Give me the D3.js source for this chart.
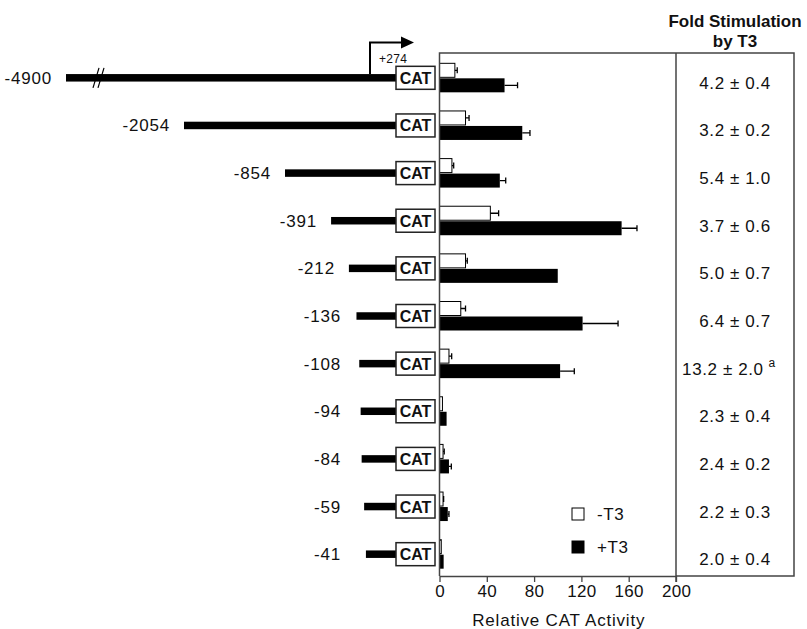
<!DOCTYPE html>
<html>
<head>
<meta charset="utf-8">
<script src="https://cdn.jsdelivr.net/npm/d3@7"></script>
<style>
  body { margin: 0; background: #fff; }
  svg text { font-family: "Liberation Sans", Arial, Helvetica, sans-serif; fill: #111; }
</style>
</head>
<body>
<div id="chart"></div>
<script>
"use strict";

// Promoter constructs, 5' end in bp relative to the CAT fusion
const constructs = ['-4900', '-2054', '-854', '-391', '-212', '-136', '-108', '-94', '-84', '-59', '-41'];
const promoterStart = [-4900, -2054, -854, -391, -212, -136, -108, -94, -84, -59, -41];

// Relative CAT activity
const minusT3 = [13, 22, 10.5, 43, 22, 18, 8, 2.5, 3, 3, 1.5];
const minusT3Err = [2, 3, 1.5, 7, 1.5, 4, 2.3, 0, 1, 0.5, 0];
const plusT3 = [55, 70, 51, 154, 100, 121, 102, 6, 8, 7, 3.5];
const plusT3Err = [11, 6.5, 5, 13, 0, 30, 12, 0, 2, 1, 0];

// Fold stimulation column
const foldText = ['4.2 \u00b1 0.4', '3.2 \u00b1 0.2', '5.4 \u00b1 1.0', '3.7 \u00b1 0.6', '5.0 \u00b1 0.7',
    '6.4 \u00b1 0.7', '13.2 \u00b1 2.0', '2.3 \u00b1 0.4', '2.4 \u00b1 0.2', '2.2 \u00b1 0.3', '2.0 \u00b1 0.4'];
const foldNote = ['', '', '', '', '', '', 'a', '', '', '', ''];

const xTicks = [0, 40, 80, 120, 160, 200];
const legendLabels = ['-T3', '+T3'];

const W = 807, H = 629;
const plot = {left: 439.5, right: 676, top: 53, bottom: 576};
const tableRight = 794;
const boxStroke = '#444';

let rows = constructs.map(function (c, i) {
    return {name: c, start: promoterStart[i],
            minus: minusT3[i], minusErr: minusT3Err[i],
            plus: plusT3[i], plusErr: plusT3Err[i],
            fold: foldText[i], note: foldNote[i]};
});

let svg = d3.select('#chart').append('svg')
    .attr('width', W)
    .attr('height', H);

let x = d3.scaleLinear()
    .domain([0, 200])
    .range([plot.left, plot.right]);
let y = d3.scaleBand()
    .domain(constructs)
    .range([plot.top + 1, plot.bottom + 2]);
function rowMid(d) { return y(d.name) + y.bandwidth() / 2; }

// Map promoter position to the left diagram (not to scale; -4900 is broken)
let bp = d3.scaleLinear()
    .domain([-4900, -2054, -854, 0])
    .range([66, 184, 285, 370]);
const catLeft = 396, catW = 39, catH = 23, lineH = 7.5;

// ---- promoter diagrams ----
let construct = svg.append('g').selectAll('g')
  .data(rows)
  .enter().append('g');

construct.append('rect')  // thick promoter line
    .attr('x', function (d) { return bp(d.start); })
    .attr('y', function (d) { return rowMid(d) - lineH / 2; })
    .attr('width', function (d) { return catLeft - bp(d.start); })
    .attr('height', lineH)
    .attr('fill', '#000');

construct.append('text')
    .attr('x', function (d) { return Math.min(bp(d.start) - 14, 341); })
    .attr('y', function (d) { return rowMid(d) + 6; })
    .style('text-anchor', 'end')
    .style('font-size', '17px')
    .style('letter-spacing', '0.8px')
    .text(function (d) { return d.name; });

construct.append('rect')  // CAT reporter box
    .attr('x', catLeft)
    .attr('y', function (d) { return rowMid(d) - catH / 2; })
    .attr('width', catW)
    .attr('height', catH)
    .attr('fill', '#fff')
    .attr('stroke', '#222')
    .attr('stroke-width', 1.5);

construct.append('text')
    .attr('x', catLeft + catW / 2)
    .attr('y', function (d) { return rowMid(d) + 6; })
    .style('text-anchor', 'middle')
    .style('font-size', '16px')
    .style('font-weight', 'bold')
    .text('CAT');

// Break marks on the long construct
let first = rows[0];
[93, 98].forEach(function (bx) {
    svg.append('line')
        .attr('x1', bx).attr('y1', rowMid(first) + 10)
        .attr('x2', bx + 6).attr('y2', rowMid(first) - 10)
        .attr('stroke', '#000')
        .attr('stroke-width', 1.2);
});

// Transcription start arrow
let ax = bp(0), ay = rowMid(first) - lineH / 2;
svg.append('path')
    .attr('d', 'M' + ax + ',' + ay + 'V42.5H403')
    .attr('fill', 'none')
    .attr('stroke', '#000')
    .attr('stroke-width', 2);
svg.append('path')
    .attr('d', 'M401,36.5L414,42.5L401,48.5Z')
    .attr('fill', '#000');
svg.append('text')
    .attr('x', ax + 9)
    .attr('y', 63)
    .style('font-size', '12px')
    .style('letter-spacing', '0.3px')
    .text('+274');

// ---- bars ----
const barH = 14;
let bars = svg.append('g').selectAll('g')
  .data(rows)
  .enter().append('g');

function errorBar(sel, val, err, yOff) {
    sel.filter(function (d) { return d[err] > 0; })
      .append('path')
        .attr('d', function (d) {
            let cy = rowMid(d) + yOff;
            let x1 = x(d[val]), x2 = x(d[val] + d[err]);
            return 'M' + x1 + ',' + cy + 'H' + x2 + 'M' + x2 + ',' + (cy - 3) + 'V' + (cy + 3);
        })
        .attr('stroke', '#000')
        .attr('stroke-width', 1.3)
        .attr('fill', 'none');
}

bars.append('rect')  // -T3, open bars
    .attr('x', x(0))
    .attr('y', function (d) { return rowMid(d) - barH - 0.5; })
    .attr('width', function (d) { return x(d.minus) - x(0); })
    .attr('height', barH)
    .attr('fill', '#fff')
    .attr('stroke', '#000')
    .attr('stroke-width', 1);
bars.append('rect')  // +T3, filled bars
    .attr('x', x(0))
    .attr('y', function (d) { return rowMid(d) + 0.5; })
    .attr('width', function (d) { return x(d.plus) - x(0); })
    .attr('height', barH)
    .attr('fill', '#000');
errorBar(bars, 'minus', 'minusErr', -barH / 2 - 0.5);
errorBar(bars, 'plus', 'plusErr', barH / 2 + 0.5);

// ---- frame, axis and fold-stimulation table ----
svg.append('path')
    .attr('d', 'M' + plot.left + ',' + plot.bottom + 'V' + plot.top + 'H' + tableRight +
        'V' + plot.bottom + 'H' + plot.right)
    .attr('fill', 'none')
    .attr('stroke', boxStroke)
    .attr('stroke-width', 1.5);
svg.append('line')
    .attr('x1', plot.right).attr('y1', plot.top)
    .attr('x2', plot.right).attr('y2', plot.bottom + 6)
    .attr('stroke', boxStroke)
    .attr('stroke-width', 1.5);

let xAxis = d3.axisBottom(x)
    .tickValues(xTicks)
    .tickSize(6)
    .tickSizeOuter(0)
    .tickFormat(d3.format('d'));
let axisG = svg.append('g')
    .attr('transform', 'translate(0,' + plot.bottom + ')')
    .call(xAxis);
axisG.select('.domain')
    .attr('stroke', boxStroke)
    .attr('stroke-width', 1.5);
axisG.selectAll('.tick line')
    .attr('stroke', boxStroke)
    .attr('stroke-width', 1.3);
axisG.selectAll('.tick text')
    .attr('y', 9)
    .attr('dy', '0.71em')
    .style('font-family', '"Liberation Sans", Arial, sans-serif')
    .style('font-size', '17px')
    .style('letter-spacing', '0.3px')
    .style('fill', '#111');

svg.append('text')
    .attr('x', (plot.left + plot.right) / 2 + 1)
    .attr('y', 626)
    .style('text-anchor', 'middle')
    .style('font-size', '17px')
    .style('letter-spacing', '0.8px')
    .text('Relative CAT Activity');

let tableMid = (plot.right + tableRight) / 2;
svg.append('text')
    .attr('x', tableMid)
    .attr('y', 26.5)
    .style('text-anchor', 'middle')
    .style('font-size', '17px')
    .style('font-weight', 'bold')
    .text('Fold Stimulation');
svg.append('text')
    .attr('x', tableMid)
    .attr('y', 46.5)
    .style('text-anchor', 'middle')
    .style('font-size', '17px')
    .style('font-weight', 'bold')
    .text('by T3');

let fold = svg.append('g').selectAll('text')
  .data(rows)
  .enter().append('text')
    .attr('x', function (d) { return tableMid - (d.note ? 6 : 0); })
    .attr('y', function (d) { return rowMid(d) + 11; })
    .style('text-anchor', 'middle')
    .style('font-size', '17px')
    .style('letter-spacing', '0.6px')
    .text(function (d) { return d.fold; });
fold.filter(function (d) { return d.note; })
  .append('tspan')
    .attr('dx', 5)
    .attr('dy', -8)
    .style('font-size', '12px')
    .text(function (d) { return d.note; });

// ---- legend ----
let legend = svg.append('g').selectAll('g')
  .data(legendLabels)
  .enter().append('g')
    .attr('transform', function (d, i) { return 'translate(572,' + (508 + i * 33) + ')'; });
legend.append('rect')
    .attr('width', 12)
    .attr('height', 12)
    .attr('fill', function (d, i) { return i ? '#000' : '#fff'; })
    .attr('stroke', '#000')
    .attr('stroke-width', 1);
legend.append('text')
    .attr('x', 25)
    .attr('y', 12)
    .style('font-size', '17px')
    .style('letter-spacing', '0.6px')
    .text(function (d) { return d; });
</script>
</body>
</html>
